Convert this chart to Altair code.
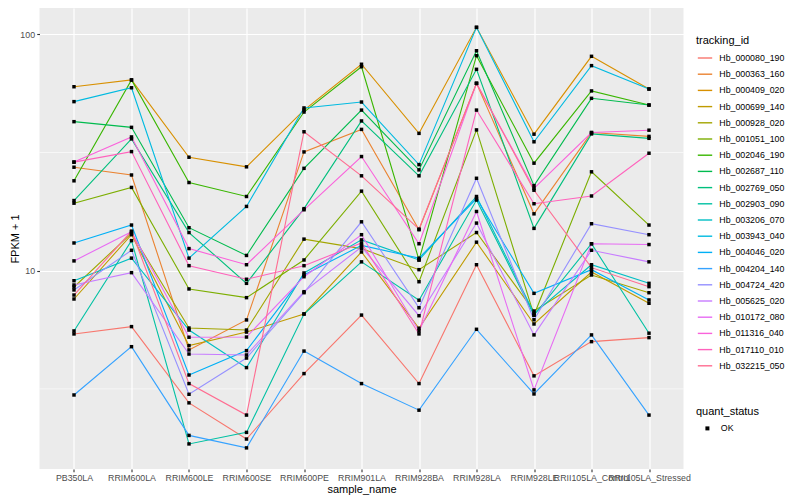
import altair as alt
import pandas as pd

samples = ["PB350LA", "RRIM600LA", "RRIM600LE", "RRIM600SE", "RRIM600PE", "RRIM901LA",
           "RRIM928BA", "RRIM928LA", "RRIM928LE", "RRII105LA_Control", "RRII105LA_Stressed"]

ids = ["Hb_000080_190", "Hb_000363_160", "Hb_000409_020", "Hb_000699_140", "Hb_000928_020",
       "Hb_001051_100", "Hb_002046_190", "Hb_002687_110", "Hb_002769_050", "Hb_002903_090",
       "Hb_003206_070", "Hb_003943_040", "Hb_004046_020", "Hb_004204_140", "Hb_004724_420",
       "Hb_005625_020", "Hb_010172_080", "Hb_011316_040", "Hb_017110_010", "Hb_032215_050"]

colors = ["#F8766D", "#EA8331", "#D89000", "#C09B00", "#A3A500", "#7CAE00", "#39B600", "#00BB4E",
          "#00BF7D", "#00C1A3", "#00BFC4", "#00BAE0", "#00B0F6", "#35A2FF", "#9590FF", "#C77CFF",
          "#E76BF3", "#FA62DB", "#FF62BC", "#FF6C91"]

# FPKM + 1 per tracking_id, in sample order
hb_000080_190 = [5.40, 5.80, 2.76, 1.94, 3.67, 6.49, 3.33, 10.6, 3.59, 5.01, 5.21]
hb_000363_160 = [27.4, 25.4, 4.62, 6.19, 31.8, 39.6, 14.9, 62.0, 17.4, 38.4, 37.0]
hb_000409_020 = [60.0, 64.1, 30.2, 27.5, 47.8, 74.7, 38.1, 107.0, 37.8, 80.7, 58.7]
hb_000699_140 = [7.59, 14.2, 4.82, 5.50, 6.56, 12.0, 5.71, 13.2, 5.95, 9.87, 7.28]
hb_000928_020 = [8.53, 14.4, 5.72, 5.61, 13.6, 12.4, 10.1, 14.5, 6.75, 9.59, 8.07]
hb_001051_100 = [19.3, 22.5, 8.37, 7.69, 11.1, 21.7, 8.98, 39.4, 6.49, 26.2, 15.6]
hb_002046_190 = [24.0, 64.1, 23.6, 20.6, 46.9, 72.9, 11.1, 81.2, 28.5, 57.6, 50.2]
hb_002687_110 = [42.7, 40.4, 15.2, 11.6, 27.1, 47.8, 26.7, 85.2, 22.9, 53.6, 50.2]
hb_002769_050 = [19.8, 36.1, 14.5, 8.84, 18.3, 43.0, 25.2, 71.1, 15.1, 37.9, 36.3]
hb_002903_090 = [5.56, 13.4, 1.85, 2.07, 6.56, 10.9, 7.50, 19.9, 6.48, 13.0, 5.44]
hb_003206_070 = [9.07, 11.3, 5.61, 3.89, 9.78, 13.5, 11.1, 20.6, 6.60, 10.6, 8.84]
hb_003943_040 = [51.9, 59.4, 11.3, 18.7, 48.8, 51.7, 28.1, 107.0, 35.1, 73.7, 58.7]
hb_004046_020 = [13.1, 15.6, 3.62, 4.59, 9.59, 12.8, 11.3, 20.2, 8.02, 10.1, 7.52]
hb_004204_140 = [2.98, 4.77, 2.01, 1.78, 4.57, 3.33, 2.57, 5.65, 3.01, 5.35, 2.45]
hb_004724_420 = [8.29, 12.2, 3.00, 4.27, 8.07, 16.1, 6.97, 24.6, 6.20, 15.8, 14.2]
hb_005625_020 = [8.70, 9.81, 4.44, 4.40, 8.15, 12.6, 6.45, 15.9, 5.35, 12.2, 10.9]
hb_010172_080 = [11.0, 14.6, 5.23, 5.24, 9.43, 14.2, 5.56, 17.8, 3.13, 13.0, 12.9]
hb_011316_040 = [28.8, 36.8, 12.4, 10.6, 18.1, 30.4, 13.0, 62.0, 22.3, 38.4, 39.3]
hb_017110_010 = [28.8, 31.9, 10.5, 9.20, 10.5, 13.1, 5.40, 47.8, 19.2, 20.7, 31.4]
hb_032215_050 = [7.89, 14.7, 3.33, 2.45, 38.7, 25.2, 15.0, 62.0, 21.9, 10.3, 8.56]

series = [hb_000080_190, hb_000363_160, hb_000409_020, hb_000699_140, hb_000928_020,
          hb_001051_100, hb_002046_190, hb_002687_110, hb_002769_050, hb_002903_090,
          hb_003206_070, hb_003943_040, hb_004046_020, hb_004204_140, hb_004724_420,
          hb_005625_020, hb_010172_080, hb_011316_040, hb_017110_010, hb_032215_050]

major_ticks = [10, 100]
minor_ticks = [3.162, 31.62]

rows = []
for tid, vals in zip(ids, series):
    for s, v in zip(samples, vals):
        rows.append({"tracking_id": tid, "sample_name": s, "fpkm": v, "quant_status": "OK"})
df = pd.DataFrame(rows)
minor_df = pd.DataFrame({"fpkm": minor_ticks})

W, H = 644, 461
FONT = "Liberation Sans"
yscale = alt.Scale(type="log", domain=[1.449, 129.2], nice=False)

xaxis = alt.Axis(title="sample_name", labelAngle=0, grid=True, gridColor="white", gridWidth=1.2,
                 domain=False, tickColor="#333333", tickSize=2.75, tickWidth=1.1,
                 labelColor="#4D4D4D", labelFontSize=8.8, labelPadding=2.2, labelFont=FONT,
                 labelOverlap=False, labelBound=False, titleFont=FONT, titleFontSize=11,
                 titleFontWeight="normal", titleColor="black", titleY=20.5, titleBaseline="middle")
yaxis = alt.Axis(title="FPKM + 1", values=major_ticks, format="d", grid=True, gridColor="white",
                 gridWidth=1.2, domain=False, tickColor="#333333", tickSize=2.75, tickWidth=1.1,
                 labelColor="#4D4D4D", labelFontSize=8.8, labelPadding=2.2, labelFont=FONT,
                 titleFont=FONT, titleFontSize=11, titleFontWeight="normal", titleColor="black",
                 titleX=-24.5, titleY=H / 2, titleBaseline="middle")

xenc = alt.X("sample_name:N", sort=samples, scale=alt.Scale(type="point", padding=0.6), axis=xaxis)
yenc = alt.Y("fpkm:Q", scale=yscale, axis=yaxis)

minor = alt.Chart(minor_df).mark_rule(color="white", strokeWidth=0.6).encode(y=yenc)

lines = alt.Chart(df).mark_line(strokeWidth=1.1).encode(
    x=xenc, y=yenc,
    color=alt.Color("tracking_id:N", scale=alt.Scale(domain=ids, range=colors),
                    legend=alt.Legend(title="tracking_id", orient="none", legendX=656.5, legendY=27,
                                      symbolType="stroke", symbolSize=207, symbolStrokeWidth=1.4,
                                      symbolOffset=1, labelFontSize=8.8, labelFont=FONT,
                                      labelColor="black", titleFont=FONT, titleFontSize=11,
                                      titleFontWeight="normal", titleColor="black", rowPadding=3.2,
                                      labelOffset=6.3, padding=0, titlePadding=4)),
    detail="tracking_id:N",
)

points = alt.Chart(df).mark_point(shape="square", filled=True, color="black", size=12, opacity=1).encode(
    x=xenc, y=yenc,
    shape=alt.Shape("quant_status:N", scale=alt.Scale(range=["square"]),
                    legend=alt.Legend(title="quant_status", orient="none", legendX=656.5, legendY=398,
                                      symbolSize=16, symbolOffset=7, labelFontSize=8.8, labelFont=FONT,
                                      labelColor="black", titleFont=FONT, titleFontSize=11,
                                      titleFontWeight="normal", titleColor="black", labelOffset=9,
                                      padding=0, titlePadding=7, symbolFillColor="black")),
)

chart = alt.layer(minor, lines, points).properties(
    width=W, height=H,
    autosize=alt.AutoSizeParams(type="none"),
    padding={"left": 31.5, "top": 0, "right": 108.5, "bottom": 26},
).configure_view(fill="#EBEBEB", strokeWidth=0)

chart.save("out.html", embed_options={"renderer": "svg", "actions": False})
